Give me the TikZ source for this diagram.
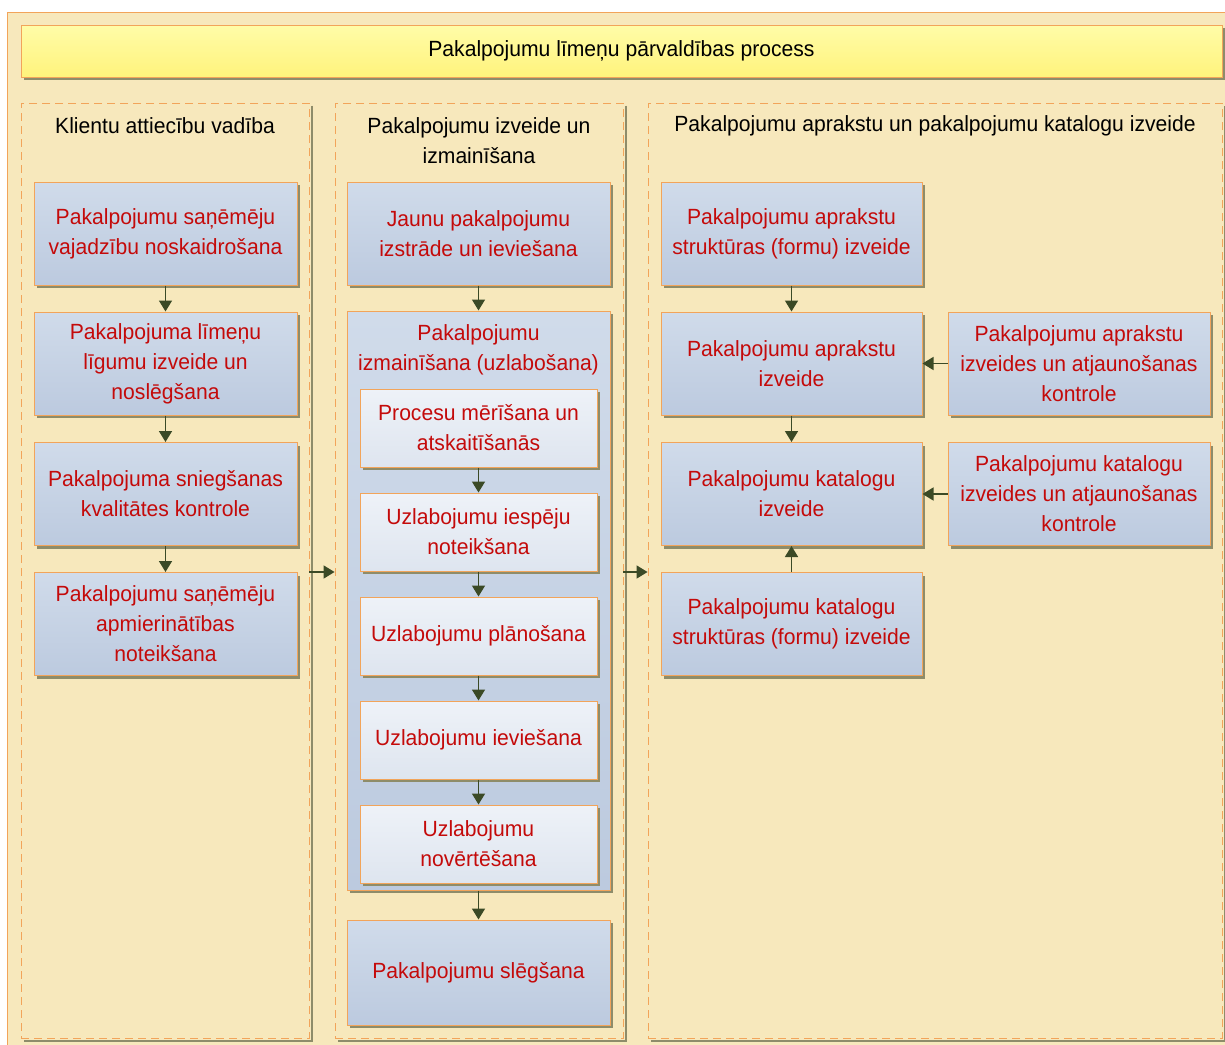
\documentclass[tikz,border=0pt]{standalone}
\usepackage{fontspec}
\setmainfont{Liberation Sans}[FakeStretch=0.96]
\usetikzlibrary{arrows.meta,calc}
\definecolor{bgcol}{HTML}{F7E8BC}
\definecolor{edgecol}{HTML}{F2A45A}
\definecolor{shadowcol}{HTML}{8E8C6A}
\definecolor{redtext}{HTML}{C40A0A}
\definecolor{arrowcol}{HTML}{3B4A26}
\definecolor{boxtop}{HTML}{D0DBEA}
\definecolor{boxbot}{HTML}{BCCADF}
\definecolor{innertop}{HTML}{EEF2F8}
\definecolor{innerbot}{HTML}{DEE5EF}
\definecolor{titletop}{HTML}{FFFCA8}
\definecolor{titlebot}{HTML}{FFF37C}
\newcommand{\boxfont}{\fontsize{22}{30}\selectfont}
\tikzset{
  x=1pt, y=-1pt,
  shadowed/.style={preaction={fill=shadowcol, transform canvas={shift={(3pt,-3pt)}}}},
  procbox/.style={shadowed, draw=edgecol, line width=1pt, top color=boxtop, bottom color=boxbot,
    minimum width=#1, minimum height=103pt, inner sep=0pt, align=center, text=redtext,
    font=\boxfont},
  procbox/.default=263pt,
  innerbox/.style={shadowed, draw=edgecol, line width=1pt, top color=innertop, bottom color=innerbot,
    minimum width=237pt, minimum height=78pt, inner sep=0pt, align=center, text=redtext,
    font=\boxfont},
  lane/.style={draw=edgecol, line width=0.9pt, dash pattern=on 8pt off 5pt, inner sep=0pt},
  laneshadow/.style={draw=shadowcol, line width=2pt},
  heading/.style={font=\boxfont, align=center, text=black},
  flow/.style={draw=arrowcol, line width=1.6pt, -{Triangle[length=11pt,width=13pt]}}
}
\begin{document}
\begin{tikzpicture}
\clip (0,0) rectangle (1225,1044);
\fill[white] (0,0) rectangle (1225,1044);
% outer frame
\draw[edgecol, line width=1pt, fill=bgcol] (7,12) rectangle (1240,1060);
% title bar
\fill[shadowcol] (24,28) rectangle (1225,80);
\node[draw=edgecol, line width=1pt, top color=titletop, bottom color=titlebot, inner sep=0pt,
  minimum width=1201pt, minimum height=52pt, font=\boxfont] (title) at (621.5,51) {Pakalpojumu līmeņu pārvaldības process};
% lanes
\node[lane, minimum width=288pt, minimum height=935pt] (col1) at (165,570.5) {};
\node[lane, minimum width=288pt, minimum height=935pt] (col2) at (479,570.5) {};
\node[lane, minimum width=574pt, minimum height=935pt] (col3) at (935,570.5) {};
\foreach \c in {col1,col2,col3}
  \draw[laneshadow] ($(\c.north east)+(2.5,3)$) -- ($(\c.south east)+(2.5,2.5)$) -- ($(\c.south west)+(3,2.5)$);
\node[heading] (h1) at (165,126) {Klientu attiecību vadība};
\node[heading] (h2) at (479,141) {Pakalpojumu izveide un\\izmainīšana};
\node[heading] (h3) at (935,126) {Pakalpojumu aprakstu un pakalpojumu katalogu izveide};
% column 1
\node[procbox] (a1) at (165.5,233.5) {Pakalpojumu saņēmēju\\vajadzību noskaidrošana};
\node[procbox] (a2) at (165.5,363.5) {Pakalpojuma līmeņu\\līgumu izveide un\\noslēgšana};
\node[procbox] (a3) at (165.5,494) {Pakalpojuma sniegšanas\\kvalitātes kontrole};
\node[procbox] (a4) at (165.5,624) {Pakalpojumu saņēmēju\\apmierinātības\\noteikšana};
% column 2
\node[procbox] (b1) at (478.5,233.5) {Jaunu pakalpojumu\\izstrāde un ieviešana};
\node[procbox, minimum height=579pt] (b2) at (478.5,600.5) {};
\node[heading, text=redtext] (b2t) at (478.5,350) {Pakalpojumu\\izmainīšana (uzlabošana)};
\node[innerbox] (c1) at (478.5,428) {Procesu mērīšana un\\atskaitīšanās};
\node[innerbox] (c2) at (478.5,532) {Uzlabojumu iespēju\\noteikšana};
\node[innerbox] (c3) at (478.5,636) {Uzlabojumu plānošana};
\node[innerbox] (c4) at (478.5,740) {Uzlabojumu ieviešana};
\node[innerbox] (c5) at (478.5,844) {Uzlabojumu\\novērtēšana};
\node[procbox, minimum height=105pt] (b3) at (478.5,972.5) {Pakalpojumu slēgšana};
% column 3
\node[procbox=261pt] (d1) at (791.5,233.5) {Pakalpojumu aprakstu\\struktūras (formu) izveide};
\node[procbox=261pt] (d2) at (791.5,363.5) {Pakalpojumu aprakstu\\izveide};
\node[procbox=261pt] (d3) at (791.5,494) {Pakalpojumu katalogu\\izveide};
\node[procbox=261pt] (d4) at (791.5,624) {Pakalpojumu katalogu\\struktūras (formu) izveide};
\node[procbox=262pt] (e1) at (1079,363.5) {Pakalpojumu aprakstu\\izveides un atjaunošanas\\kontrole};
\node[procbox=262pt] (e2) at (1079,494) {Pakalpojumu katalogu\\izveides un atjaunošanas\\kontrole};
% connectors
\draw[flow] (a1) -- (a2);
\draw[flow] (a2) -- (a3);
\draw[flow] (a3) -- (a4);
\draw[flow] (b1) -- (b2);
\draw[flow] (c1) -- (c2);
\draw[flow] (c2) -- (c3);
\draw[flow] (c3) -- (c4);
\draw[flow] (c4) -- (c5);
\draw[flow] (b2) -- (b3);
\draw[flow] (d1) -- (d2);
\draw[flow] (d2) -- (d3);
\draw[flow] (d4) -- (d3);
\draw[flow] (e1) -- (d2);
\draw[flow] (e2) -- (d3);
\draw[flow] (col1.east |- a4.north) -- (col2.west |- a4.north);
\draw[flow] (col2.east |- a4.north) -- (col3.west |- a4.north);
\end{tikzpicture}
\end{document}
